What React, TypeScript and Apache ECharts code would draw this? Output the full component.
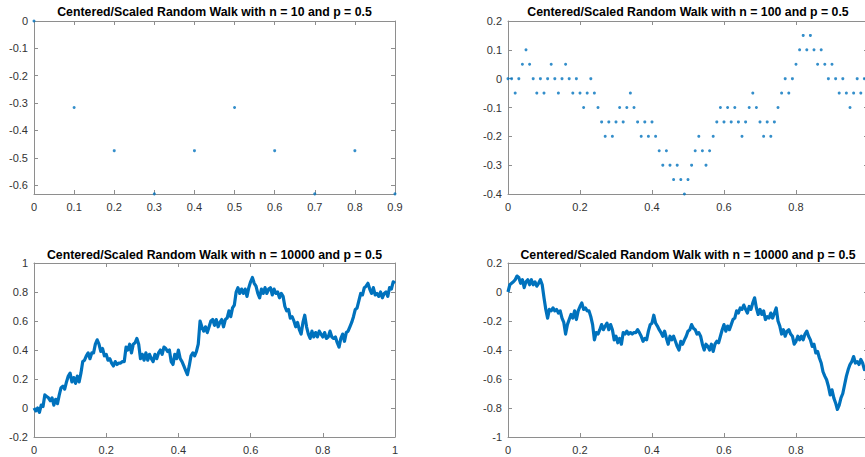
import React, { useEffect, useRef } from "react";
import * as echarts from "echarts";

// Scaled walk, n = 10 (x = k / 10)
const WALK_10 = [0, -0.316, -0.474, -0.632, -0.474, -0.316, -0.474, -0.632, -0.474, -0.632];

// Scaled walk, n = 100 (x = k / 100)
const WALK_100 = [
  0, 0, -0.05, 0, 0.05, 0.1, 0.05, 0, -0.05, 0,
  -0.05, 0, 0.05, 0, -0.05, 0, 0.05, 0, -0.05, 0,
  -0.05, -0.1, -0.05, 0, -0.05, -0.1, -0.15, -0.2, -0.15, -0.2,
  -0.15, -0.1, -0.15, -0.1, -0.05, -0.1, -0.15, -0.2, -0.15, -0.2,
  -0.15, -0.2, -0.25, -0.3, -0.25, -0.3, -0.35, -0.3, -0.35, -0.4,
  -0.35, -0.3, -0.25, -0.2, -0.25, -0.3, -0.25, -0.2, -0.15, -0.1,
  -0.15, -0.1, -0.15, -0.1, -0.15, -0.2, -0.15, -0.1, -0.05, -0.1,
  -0.15, -0.2, -0.15, -0.2, -0.15, -0.1, -0.05, 0, -0.05, 0,
  0.05, 0.1, 0.15, 0.1, 0.15, 0.1, 0.05, 0.1, 0.05, 0,
  0.05, 0, -0.05, 0, -0.05, -0.1, -0.05, 0, -0.05, 0,
];

// Scaled walks, n = 10000, sampled every 0.005 in x
const WALK_10000_A = [
  0.0, -0.02, 0.0, -0.03, 0.02, 0.01, 0.09, 0.08, 0.07, 0.05,
  0.07, 0.02, 0.06, 0.03, 0.09, 0.14, 0.15, 0.13, 0.18, 0.22,
  0.24, 0.18, 0.21, 0.17, 0.22, 0.18, 0.24, 0.32, 0.33, 0.36,
  0.38, 0.34, 0.38, 0.38, 0.44, 0.47, 0.44, 0.39, 0.41, 0.36,
  0.37, 0.33, 0.34, 0.31, 0.29, 0.32, 0.3, 0.31, 0.31, 0.32,
  0.32, 0.42, 0.4, 0.44, 0.38, 0.44, 0.45, 0.48, 0.44, 0.34,
  0.37, 0.33, 0.38, 0.33, 0.37, 0.34, 0.32, 0.37, 0.34, 0.38,
  0.4, 0.37, 0.42, 0.41, 0.39, 0.4, 0.32, 0.3, 0.37, 0.34,
  0.4, 0.34, 0.32, 0.29, 0.26, 0.23, 0.29, 0.36, 0.38, 0.36,
  0.39, 0.44, 0.6, 0.56, 0.53, 0.56, 0.52, 0.56, 0.6, 0.61,
  0.57, 0.61, 0.56, 0.59, 0.61, 0.56, 0.61, 0.62, 0.67, 0.63,
  0.69, 0.71, 0.8, 0.83, 0.79, 0.82, 0.79, 0.82, 0.77, 0.83,
  0.87, 0.9, 0.86, 0.84, 0.79, 0.76, 0.82, 0.79, 0.83, 0.79,
  0.82, 0.83, 0.78, 0.82, 0.79, 0.8, 0.76, 0.79, 0.77, 0.7,
  0.67, 0.68, 0.62, 0.63, 0.6, 0.56, 0.59, 0.54, 0.51, 0.59,
  0.64, 0.56, 0.51, 0.48, 0.53, 0.49, 0.52, 0.49, 0.53, 0.51,
  0.49, 0.52, 0.48, 0.49, 0.53, 0.49, 0.48, 0.49, 0.45, 0.42,
  0.48, 0.51, 0.46, 0.52, 0.53, 0.56, 0.59, 0.63, 0.68, 0.69,
  0.74, 0.79, 0.78, 0.83, 0.84, 0.86, 0.82, 0.79, 0.83, 0.78,
  0.79, 0.77, 0.8, 0.76, 0.79, 0.8, 0.77, 0.83, 0.82, 0.87,
  0.86,
];

const WALK_10000_B = [
  0.0, 0.05, 0.06, 0.07, 0.085, 0.11, 0.1, 0.06, 0.085, 0.03,
  0.07, 0.085, 0.05, 0.085, 0.05, 0.07, 0.04, 0.06, 0.085, 0.05,
  -0.04, -0.12, -0.18, -0.12, -0.13, -0.11, -0.13, -0.12, -0.145, -0.13,
  -0.18, -0.21, -0.29, -0.225, -0.19, -0.155, -0.18, -0.13, -0.19, -0.13,
  -0.1, -0.075, -0.12, -0.11, -0.13, -0.13, -0.17, -0.225, -0.33, -0.28,
  -0.29, -0.26, -0.225, -0.26, -0.235, -0.215, -0.26, -0.225, -0.26, -0.33,
  -0.305, -0.35, -0.32, -0.36, -0.28, -0.29, -0.27, -0.29, -0.28, -0.29,
  -0.28, -0.28, -0.26, -0.28, -0.305, -0.34, -0.32, -0.33, -0.27, -0.225,
  -0.215, -0.16, -0.215, -0.235, -0.26, -0.28, -0.305, -0.27, -0.32, -0.36,
  -0.305, -0.33, -0.305, -0.34, -0.375, -0.4, -0.34, -0.36, -0.33, -0.305,
  -0.27, -0.26, -0.225, -0.25, -0.26, -0.29, -0.28, -0.305, -0.36, -0.4,
  -0.36, -0.375, -0.4, -0.36, -0.41, -0.36, -0.34, -0.35, -0.305, -0.26,
  -0.225, -0.27, -0.235, -0.26, -0.225, -0.19, -0.18, -0.13, -0.145, -0.11,
  -0.12, -0.09, -0.12, -0.145, -0.1, -0.12, -0.075, -0.04, -0.11, -0.155,
  -0.12, -0.155, -0.13, -0.19, -0.17, -0.18, -0.145, -0.18, -0.145, -0.11,
  -0.2, -0.235, -0.29, -0.26, -0.305, -0.27, -0.26, -0.29, -0.305, -0.36,
  -0.34, -0.305, -0.33, -0.305, -0.33, -0.29, -0.27, -0.305, -0.33, -0.375,
  -0.36, -0.42, -0.41, -0.455, -0.49, -0.55, -0.58, -0.605, -0.65, -0.71,
  -0.675, -0.73, -0.765, -0.81, -0.78, -0.73, -0.7, -0.64, -0.58, -0.535,
  -0.5, -0.48, -0.445, -0.49, -0.48, -0.5, -0.465, -0.49, -0.535, -0.53,
  -0.55,
];

const TITLES = [
  "Centered/Scaled Random Walk with n = 10 and p = 0.5",
  "Centered/Scaled Random Walk with n = 100 and p = 0.5",
  "Centered/Scaled Random Walk with n = 10000 and p = 0.5",
  "Centered/Scaled Random Walk with n = 10000 and p = 0.5",
];

const BLUE = "#0072BD";
const AXIS_COLOR = "#8e8e8e";
const LABEL_COLOR = "#333333";
const FONT = "'Liberation Sans', Arial, Helvetica, sans-serif";

// the right-hand panels run past the page edge, so their last x label is not drawn
const PANELS = [
  { left: 34, top: 21, width: 361, height: 173, clipped: false },
  { left: 508, top: 21, width: 360, height: 173, clipped: true },
  { left: 34, top: 263, width: 361, height: 174, clipped: false },
  { left: 508, top: 263, width: 360, height: 174, clipped: true },
];

type Range = { min: number; max: number; interval?: number; splitNumber?: number };

const X_RANGES: Range[] = [
  { min: 0, max: 0.9, interval: 0.1 },
  { min: 0, max: 1, interval: 0.2 },
  { min: 0, max: 1, interval: 0.2 },
  { min: 0, max: 1, interval: 0.2 },
];

const Y_RANGES: Range[] = [
  { min: -0.6325, max: 0, splitNumber: 6 },
  { min: -0.4, max: 0.2, interval: 0.1 },
  { min: -0.2, max: 1, interval: 0.2 },
  { min: -1, max: 0.2, interval: 0.2 },
];

// show only labels on a 0.1 step (hides the axis end at -0.6325)
const tickFormatter = (v: number) => {
  const s = v * 10;
  if (Math.abs(s - Math.round(s)) > 1e-6) return "";
  return String(Math.round(s) / 10);
};

function makeAxis(kind: "x" | "y", gi: number, r: Range, primary: boolean) {
  const position = kind === "x" ? (primary ? "bottom" : "top") : primary ? "left" : "right";
  const axis: any = {
    type: "value",
    gridIndex: gi,
    position,
    min: r.min,
    max: r.max,
    axisLine: { show: true, onZero: false, lineStyle: { color: AXIS_COLOR, width: 1 } },
    axisTick: { show: true, inside: true, length: 4, lineStyle: { color: AXIS_COLOR, width: 1 } },
    axisLabel: {
      show: primary,
      color: LABEL_COLOR,
      fontSize: 11,
      fontFamily: FONT,
      margin: kind === "x" ? 7 : 6,
      formatter: tickFormatter,
      hideOverlap: false,
      showMaxLabel: kind === "x" && PANELS[gi].clipped ? false : undefined,
    },
    splitLine: { show: false },
  };
  if (r.interval !== undefined) axis.interval = r.interval;
  if (r.splitNumber !== undefined) axis.splitNumber = r.splitNumber;
  return axis;
}

export default function App() {
  const ref = useRef<HTMLDivElement>(null);

  useEffect(() => {
    if (!ref.current) return;
    const chart = echarts.init(ref.current, undefined, { renderer: "svg" });

    const xAxis: any[] = [];
    const yAxis: any[] = [];
    PANELS.forEach((_, gi) => {
      xAxis.push(makeAxis("x", gi, X_RANGES[gi], true));
      xAxis.push(makeAxis("x", gi, X_RANGES[gi], false));
      yAxis.push(makeAxis("y", gi, Y_RANGES[gi], true));
      yAxis.push(makeAxis("y", gi, Y_RANGES[gi], false));
    });

    const step10000 = 1 / (WALK_10000_A.length - 1);

    const dots = (data: number[][], axisIndex: number) => ({
      type: "scatter",
      xAxisIndex: axisIndex,
      yAxisIndex: axisIndex,
      data,
      symbol: "circle",
      symbolSize: 3,
      itemStyle: { color: BLUE },
      clip: false,
      silent: true,
    });

    const walkLine = (data: number[][], axisIndex: number) => ({
      type: "line",
      xAxisIndex: axisIndex,
      yAxisIndex: axisIndex,
      data,
      showSymbol: false,
      lineStyle: { color: BLUE, width: 3.2, join: "round" },
      itemStyle: { color: BLUE },
      silent: true,
    });

    const series: any[] = [
      dots(WALK_10.map((v, k) => [k / 10, v]), 0),
      dots(WALK_100.map((v, k) => [k / 100, v]), 2),
      walkLine(WALK_10000_A.map((v, k) => [k * step10000, v]), 4),
      walkLine(WALK_10000_B.map((v, k) => [k * step10000, v]), 6),
    ];

    const graphic = TITLES.map((t, i) => {
      const p = PANELS[i];
      return {
        type: "text",
        x: p.left + p.width / 2,
        y: i < 2 ? 11.5 : 254.5,
        silent: true,
        style: {
          text: t,
          fill: "#000000",
          fontSize: 12.3,
          fontWeight: "bold",
          fontFamily: FONT,
          align: "center",
          verticalAlign: "middle",
        },
      };
    });

    chart.setOption({
      animation: false,
      backgroundColor: "#ffffff",
      grid: PANELS.map((p) => ({
        left: p.left,
        top: p.top,
        width: p.width,
        height: p.height,
        containLabel: false,
        outerBoundsMode: "none",
      })),
      xAxis,
      yAxis,
      series,
      graphic,
    });

    return () => chart.dispose();
  }, []);

  return (
    <div
      ref={ref}
      style={{ position: "absolute", left: 0, top: 0, width: 865, height: 457, overflow: "hidden" }}
    />
  );
}
